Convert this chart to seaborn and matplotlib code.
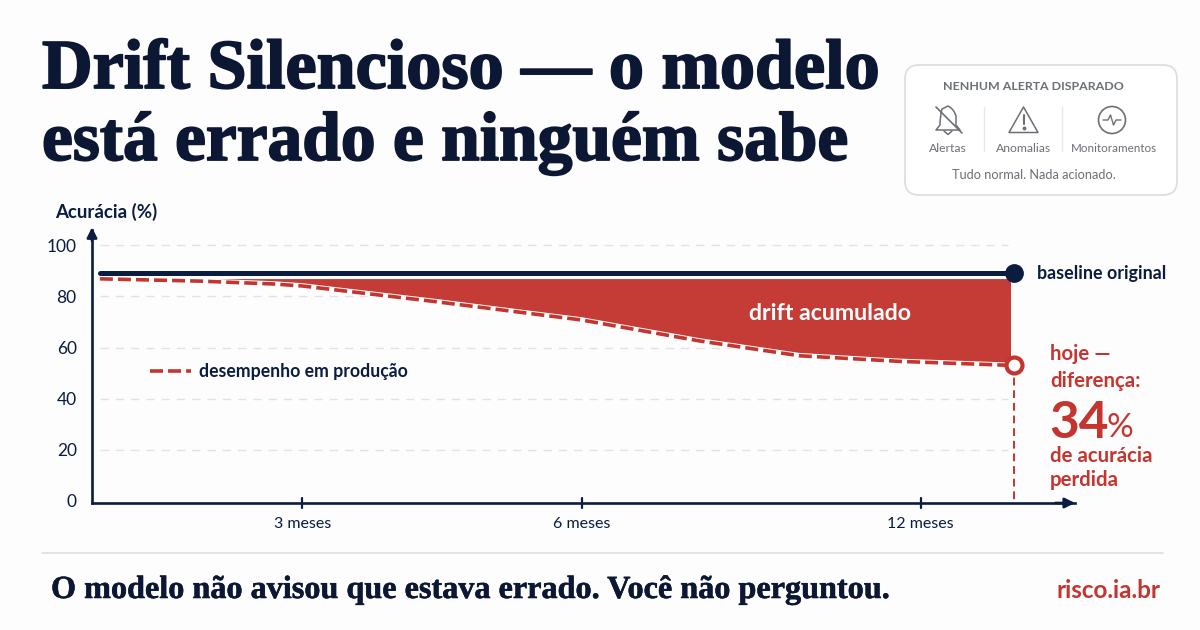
import numpy as np
import pandas as pd
import matplotlib
matplotlib.use("Agg")
import matplotlib.pyplot as plt
import matplotlib.patheffects as pe
from matplotlib.lines import Line2D
from matplotlib.patches import FancyBboxPatch, PathPatch, Polygon, Circle, Rectangle
from matplotlib.path import Path
import seaborn as sns

# Timeline position (percent of the horizontal axis) and accuracy values
timeline = [0.8, 11.0, 18.4, 21.4, 35.1, 49.8, 61.8, 72.0, 82.2, 93.8]
producao = [86.9, 86.0, 84.9, 84.1, 77.9, 70.8, 62.6, 56.8, 54.6, 53.0]
baseline_valor = 89.0
topo_drift = 87.0
fim_drift = 93.4
tick_pos = [21.4, 49.8, 84.3]
tick_labels = ["3 meses", "6 meses", "12 meses"]
y_ticks = [0, 20, 40, 60, 80, 100]
icon_labels = ["Alertas", "Anomalias", "Monitoramentos"]

NAVY = "#0A1C40"
INK = "#0B1733"
RED = "#C4352F"
GREY = "#6B6F76"
BG = "#FDFDFD"
SANS = "Lato"
SERIF = "Liberation Serif"
DASH = (0, (3.6, 1.4))

sns.set_theme(style="white")
plt.rcParams["font.family"] = [SANS, "DejaVu Sans"]

W, H = 1200, 630
fig = plt.figure(figsize=(W / 100, H / 100), dpi=100, facecolor=BG)

ax = fig.add_axes([92 / W, (H - 503) / H, (1075 - 92) / W, (503 - 230) / H], facecolor="none")
df = pd.DataFrame({"pos": timeline, "producao": producao})
df["baseline"] = baseline_valor

ax.set_xlim(0, 100)
ax.set_ylim(-0.8, 106)

for v in y_ticks[1:]:
    ax.plot([0.8, 93.2], [v, v], color="#E2E2E2", lw=1, dashes=(6, 5), zorder=1)

area = ax.fill_between(df["pos"], df["producao"], topo_drift, color=RED, alpha=0.97, lw=0, zorder=2)
area.set_clip_path(Rectangle((0, 0), fim_drift, 100, transform=ax.transData))
sns.lineplot(data=df, x="pos", y="producao", ax=ax, color="white", lw=4, zorder=3)
sns.lineplot(data=df, x="pos", y="producao", ax=ax, color=RED, lw=2.6, zorder=4, linestyle=DASH)
sns.lineplot(data=df, x="pos", y="baseline", ax=ax, color=NAVY, lw=3.6, zorder=5)

# Drop line from today's value down to the axis
ax.plot([timeline[-1]] * 2, [producao[-1], -0.8], color=RED, lw=1.4, dashes=(4, 2.5), zorder=4)
ax.plot(timeline[-1], baseline_valor, "o", ms=12.5, color=NAVY, zorder=6)
ax.plot(timeline[-1], producao[-1], "o", ms=11.5, mfc="white", mec=RED, mew=3, zorder=6)

for s in ("top", "right"):
    ax.spines[s].set_visible(False)
for s in ("left", "bottom"):
    ax.spines[s].set_color(NAVY)
    ax.spines[s].set_linewidth(1.9)

ax.set_xlabel("")
ax.set_ylabel("")
ax.set_yticks(y_ticks)
ax.set_yticklabels([str(v) for v in y_ticks], fontsize=12.5, color=NAVY)
ax.set_xticks(tick_pos)
ax.set_xticklabels(tick_labels, fontsize=11.5, color=NAVY)
ax.tick_params(axis="y", length=0, pad=11)
ax.tick_params(axis="x", length=0, pad=10)
for p in tick_pos:
    ax.plot([p, p], [-2.9, 1.2], color=NAVY, lw=1.6, clip_on=False, zorder=6)

# Axis arrowheads
ax.annotate("", xy=(0, 1.01), xytext=(0, 0.96), xycoords="axes fraction",
            arrowprops=dict(arrowstyle="-|>", color=NAVY, lw=1.9, mutation_scale=15, shrinkA=0, shrinkB=0))
ax.annotate("", xy=(1.0, 0), xytext=(0.98, 0), xycoords="axes fraction",
            arrowprops=dict(arrowstyle="-|>", color=NAVY, lw=1.9, mutation_scale=15, shrinkA=0, shrinkB=0))

leg = ax.legend(
    handles=[Line2D([], [], color=RED, lw=2.6, linestyle=DASH)],
    labels=["desempenho em produção"], frameon=False, loc="center left",
    bbox_to_anchor=((150 - 92) / 983, (503 - 372) / 273), borderpad=0, borderaxespad=0,
    handlelength=2.3, handletextpad=0.5, prop={"family": SANS, "size": 12.7, "weight": "bold"},
)
leg.get_texts()[0].set_color(NAVY)

# Overlay working in canvas pixels for the header, card and side notes
ov = fig.add_axes([0, 0, 1, 1], facecolor="none")
ov.set_xlim(0, W)
ov.set_ylim(H, 0)
ov.axis("off")

fat = [pe.withStroke(linewidth=1.3, foreground=INK)]
ov.text(42, 88, "Drift Silencioso — o modelo", family=SERIF, weight="bold", fontsize=50.5,
        color=INK, va="baseline", path_effects=fat)
ov.text(42, 160, "está errado e ninguém sabe", family=SERIF, weight="bold", fontsize=50,
        color=INK, va="baseline", path_effects=fat)

ov.text(55, 212, "Acurácia (%)", fontsize=13.4, color=NAVY, va="center", weight="bold")
ov.text(830, 314, "drift acumulado", fontsize=16.7, color="white", ha="center", va="center", weight="bold")
ov.text(1037, 274, "baseline original", fontsize=12.9, color=NAVY, va="center", weight="bold")

for txt, y in (("hoje —", 354), ("diferença:", 381), ("de acurácia", 456), ("perdida", 480)):
    ov.text(1050, y, txt, fontsize=14.7, color=RED, va="center", weight="bold")
ov.text(1049, 424, "34", fontsize=37, color=RED, va="center", weight="bold")
ov.text(1106, 428, "%", fontsize=24, color=RED, va="center")

# Alert card
ov.add_patch(FancyBboxPatch((905, 65), 272, 130, boxstyle="round,pad=0,rounding_size=14",
                            fc="white", ec="#DEDEDE", lw=1.3))
ov.text(1033.5, 86, "NENHUM ALERTA DISPARADO", fontsize=8.9, color=GREY, ha="center", va="center", weight="bold")
for x, lab, fs in zip((948, 1024, 1114), icon_labels, (8.7, 8.7, 8.4)):
    ov.text(x, 148, lab, fontsize=fs, color=GREY, ha="center", va="center")
ov.text(1033.5, 175, "Tudo normal. Nada acionado.", fontsize=9.2, color=GREY, ha="center", va="center")
for x in (984, 1062):
    ov.plot([x, x], [107, 151], color="#E8E8E8", lw=1)

# Muted bell icon
bell = Path(
    [(936, 130), (940, 125), (940, 116), (942, 109), (948, 106), (954, 109), (956, 116), (956, 125),
     (960, 130), (936, 130)],
    [Path.MOVETO, Path.LINETO, Path.CURVE3, Path.CURVE3, Path.LINETO, Path.CURVE3, Path.CURVE3,
     Path.LINETO, Path.LINETO, Path.CLOSEPOLY],
)
ov.add_patch(PathPatch(bell, fc="none", ec=GREY, lw=1.1, joinstyle="round"))
ov.plot([944, 948, 952], [131, 134.5, 131], color=GREY, lw=1.1)
ov.plot([936, 962], [107, 133], color=GREY, lw=1.2)

# Warning triangle icon
ov.add_patch(Polygon([(1023.5, 107), (1009, 132.5), (1038, 132.5)], closed=True, fc="none",
                     ec=GREY, lw=1.1, joinstyle="round"))
ov.plot([1023.5, 1023.5], [115, 124], color=GREY, lw=1.5)
ov.plot(1023.5, 128, "o", ms=1.8, color=GREY)

# Pulse monitor icon
ov.add_patch(Circle((1112, 120), 13.5, fc="none", ec=GREY, lw=1.2))
pulse_x = [1103, 1108, 1110.5, 1113.5, 1116, 1121]
pulse_y = [120, 120, 115, 125, 120, 120]
ov.plot(pulse_x, pulse_y, color=GREY, lw=1.0)

# Footer
ov.plot([42, 1163], [553, 553], color="#DCDCDC", lw=1.1)
ov.text(51, 598, "O modelo não avisou que estava errado. Você não perguntou.", family=SERIF,
        weight="bold", fontsize=23.2, color=INK, va="baseline",
        path_effects=[pe.withStroke(linewidth=0.4, foreground=INK)])
ov.text(1160, 591, "risco.ia.br", fontsize=17.5, color=RED, ha="right", va="center", weight="bold")

fig.savefig("out.png", dpi=100, facecolor=BG)
